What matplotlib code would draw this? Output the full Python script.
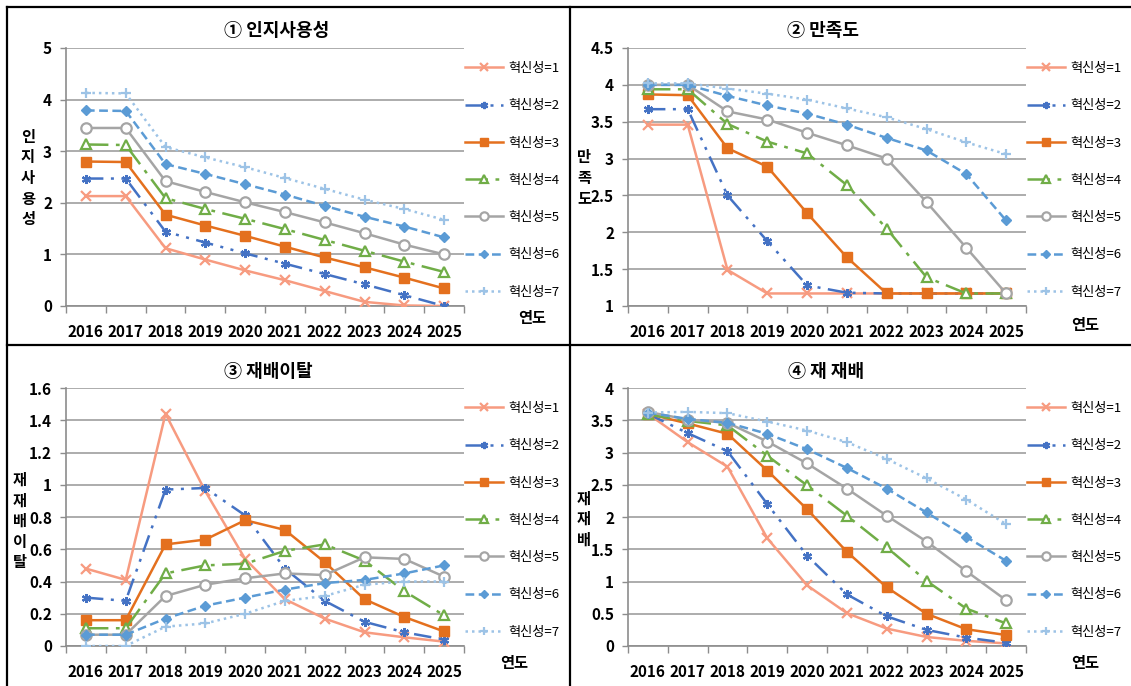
import matplotlib
matplotlib.use("Agg")
import matplotlib.pyplot as plt
from matplotlib.lines import Line2D

plt.rcParams['font.family'] = ['Noto Sans CJK KR', 'DejaVu Sans']

years = ['2016', '2017', '2018', '2019', '2020', '2021', '2022', '2023', '2024', '2025']
labels = ['혁신성=1', '혁신성=2', '혁신성=3', '혁신성=4', '혁신성=5', '혁신성=6', '혁신성=7']

# ① 인지사용성
awareness = [
    [2.13, 2.13, 1.12, 0.90, 0.69, 0.50, 0.29, 0.08, 0.01, 0.00],
    [2.47, 2.47, 1.44, 1.23, 1.02, 0.82, 0.62, 0.42, 0.21, 0.00],
    [2.80, 2.79, 1.77, 1.56, 1.36, 1.15, 0.94, 0.75, 0.55, 0.34],
    [3.13, 3.12, 2.09, 1.88, 1.69, 1.49, 1.28, 1.07, 0.86, 0.66],
    [3.45, 3.45, 2.42, 2.21, 2.01, 1.82, 1.62, 1.41, 1.19, 1.00],
    [3.79, 3.78, 2.75, 2.56, 2.36, 2.16, 1.94, 1.73, 1.54, 1.33],
    [4.13, 4.12, 3.08, 2.88, 2.69, 2.48, 2.27, 2.06, 1.88, 1.67],
]
# ② 만족도
satisfaction = [
    [3.46, 3.46, 1.49, 1.17, 1.17, 1.17, 1.17, 1.17, 1.17, 1.17],
    [3.67, 3.67, 2.50, 1.88, 1.28, 1.18, 1.17, 1.17, 1.17, 1.17],
    [3.87, 3.86, 3.14, 2.89, 2.26, 1.66, 1.17, 1.17, 1.17, 1.17],
    [3.94, 3.94, 3.47, 3.23, 3.07, 2.64, 2.05, 1.39, 1.17, 1.17],
    [4.00, 4.00, 3.64, 3.53, 3.35, 3.18, 3.00, 2.41, 1.79, 1.17],
    [4.00, 4.00, 3.85, 3.72, 3.61, 3.46, 3.28, 3.11, 2.79, 2.16],
    [4.02, 4.02, 3.95, 3.88, 3.80, 3.68, 3.56, 3.40, 3.22, 3.06],
]
# ③ 재배이탈
dropout = [
    [0.48, 0.41, 1.44, 0.96, 0.54, 0.29, 0.17, 0.085, 0.054, 0.027],
    [0.30, 0.28, 0.97, 0.98, 0.81, 0.48, 0.28, 0.15, 0.085, 0.04],
    [0.16, 0.16, 0.63, 0.66, 0.78, 0.72, 0.52, 0.29, 0.18, 0.09],
    [0.11, 0.11, 0.45, 0.50, 0.51, 0.59, 0.63, 0.53, 0.34, 0.19],
    [0.07, 0.07, 0.31, 0.38, 0.42, 0.45, 0.44, 0.55, 0.54, 0.43],
    [0.07, 0.07, 0.17, 0.25, 0.30, 0.35, 0.39, 0.41, 0.45, 0.50],
    [0.00, 0.00, 0.12, 0.14, 0.20, 0.28, 0.31, 0.38, 0.40, 0.40],
]
# ④ 재 재배
replant = [
    [3.60, 3.16, 2.78, 1.67, 0.94, 0.51, 0.27, 0.14, 0.08, 0.04],
    [3.60, 3.30, 3.02, 2.20, 1.40, 0.80, 0.46, 0.25, 0.13, 0.05],
    [3.60, 3.45, 3.29, 2.72, 2.12, 1.46, 0.91, 0.50, 0.26, 0.17],
    [3.59, 3.49, 3.42, 2.95, 2.49, 2.02, 1.53, 1.01, 0.58, 0.35],
    [3.63, 3.51, 3.46, 3.17, 2.83, 2.44, 2.02, 1.62, 1.16, 0.71],
    [3.62, 3.52, 3.46, 3.29, 3.05, 2.76, 2.44, 2.07, 1.69, 1.32],
    [3.62, 3.63, 3.61, 3.48, 3.34, 3.16, 2.90, 2.60, 2.27, 1.89],
]

# series styles (color, marker, linestyle, filled)
styles = [
    ('#F79B80', 'x', '-', True),
    ('#4472C4', (6, 2, 0), (0, (7, 3, 1.2, 3, 1.2, 3)), True),
    ('#E4701E', 's', '-', True),
    ('#70AD47', '^', (0, (9, 3, 1.5, 3)), False),
    ('#A5A5A5', 'o', '-', False),
    ('#5B9BD5', 'D', (0, (3.5, 1.8)), True),
    ('#9DC3E6', '+', (0, (1, 1.6)), True),
]

W, H = 1131, 686
fig = plt.figure(figsize=(W / 100, H / 100), dpi=100)


def fx(px):
    return px / W


def fy(py):
    return 1 - py / H


panels = [
    (awareness, '① 인지사용성', '인\n지\n사\n용\n성', (0, 5), [0, 1, 2, 3, 4, 5],
     ['0', '1', '2', '3', '4', '5'], 66, 48, 306, 28, 178, 277, 31, 518, 318),
    (satisfaction, '② 만족도', '만\n족\n도', (1, 4.5), [1, 1.5, 2, 2.5, 3, 3.5, 4, 4.5],
     ['1', '1.5', '2', '2.5', '3', '3.5', '4', '4.5'], 628, 48, 306, 584, 178, 823, 31, 1071, 325),
    (dropout, '③ 재배이탈', '재\n재\n배\n이\n탈', (0, 1.6), [0, 0.2, 0.4, 0.6, 0.8, 1, 1.2, 1.4, 1.6],
     ['0', '0.2', '0.4', '0.6', '0.8', '1', '1.2', '1.4', '1.6'], 66, 388, 646, 20, 521, 268, 371, 500, 663),
    (replant, '④ 재 재배', '재\n재\n배', (0, 4), [0, 0.5, 1, 1.5, 2, 2.5, 3, 3.5, 4],
     ['0', '0.5', '1', '1.5', '2', '2.5', '3', '3.5', '4'], 628, 388, 646, 584, 519, 826, 371, 1071, 663),
]

x = list(range(len(years)))
for (data, title, ylab, ylim, yt, ytl, left, top, bottom, ylx, yly, tx, ty, lx, ly) in panels:
    ax = fig.add_axes([fx(left), fy(bottom), fx(398), (bottom - top) / H])
    for i, series in enumerate(data):
        c, m, ls, filled = styles[i]
        ms = 6.5
        if m == 'D':
            ms = 5.5
        elif m in ('o', '^'):
            ms = 7.5
        ax.plot(x, series, color=c, linestyle=ls, linewidth=1.8, marker=m, markersize=ms,
                markeredgewidth=1.6 if m in ('x', '+', (6, 2, 0), 'o', '^') else 1,
                markerfacecolor=c if filled else 'white', markeredgecolor=c,
                label=labels[i], zorder=3 + i * 0.1)
    ax.set_xlim(-0.5, 9.5)
    ax.set_ylim(*ylim)
    ax.set_yticks(yt)
    ax.set_yticklabels(ytl, fontsize=11, fontweight='bold')
    ax.set_xticks(x)
    ax.set_xticklabels(years, fontsize=11, fontweight='bold')
    ax.set_xticks([v + 0.5 for v in range(-1, 10)], minor=True)
    ax.tick_params(axis='x', which='major', length=0, pad=13)
    ax.tick_params(axis='x', which='minor', length=5, color='#8C8C8C', width=1)
    ax.tick_params(axis='y', length=4, color='#8C8C8C', width=1, pad=6)
    ax.yaxis.grid(True, color='#A6A6A6', linewidth=1.3)
    ax.set_axisbelow(True)
    for s in ['top', 'right']:
        ax.spines[s].set_visible(False)
    for s in ['left', 'bottom']:
        ax.spines[s].set_color('#8C8C8C')
        ax.spines[s].set_linewidth(1.2)
    ax.patch.set_alpha(0)
    leg = ax.legend(loc='upper left', bbox_to_anchor=(fx(left + 399), fy(top + 14)),
                    bbox_transform=fig.transFigure, frameon=False, fontsize=9.5,
                    handlelength=2.9, handletextpad=0.4, labelspacing=1.84,
                    borderpad=0, borderaxespad=0, markerscale=0.8)
    fig.text(fx(tx), fy(ty), title, ha='center', va='center', fontsize=13, fontweight='bold')
    fig.text(fx(ylx), fy(yly), ylab, ha='center', va='center', fontsize=11, fontweight='bold',
             linespacing=1.35)
    fig.text(fx(lx), fy(ly), '연도', ha='left', va='center', fontsize=11, fontweight='bold')

# panel frame lines
fig.add_artist(Line2D([fx(7), 1], [fy(7), fy(7)], color='black', linewidth=1.6))
fig.add_artist(Line2D([fx(7), fx(7)], [fy(7), 0], color='black', linewidth=1.6))
fig.add_artist(Line2D([fx(7), 1], [fy(345), fy(345)], color='black', linewidth=1.6))
fig.add_artist(Line2D([fx(570), fx(570)], [fy(7), 0], color='black', linewidth=1.6))

fig.savefig('out.png', dpi=100)
